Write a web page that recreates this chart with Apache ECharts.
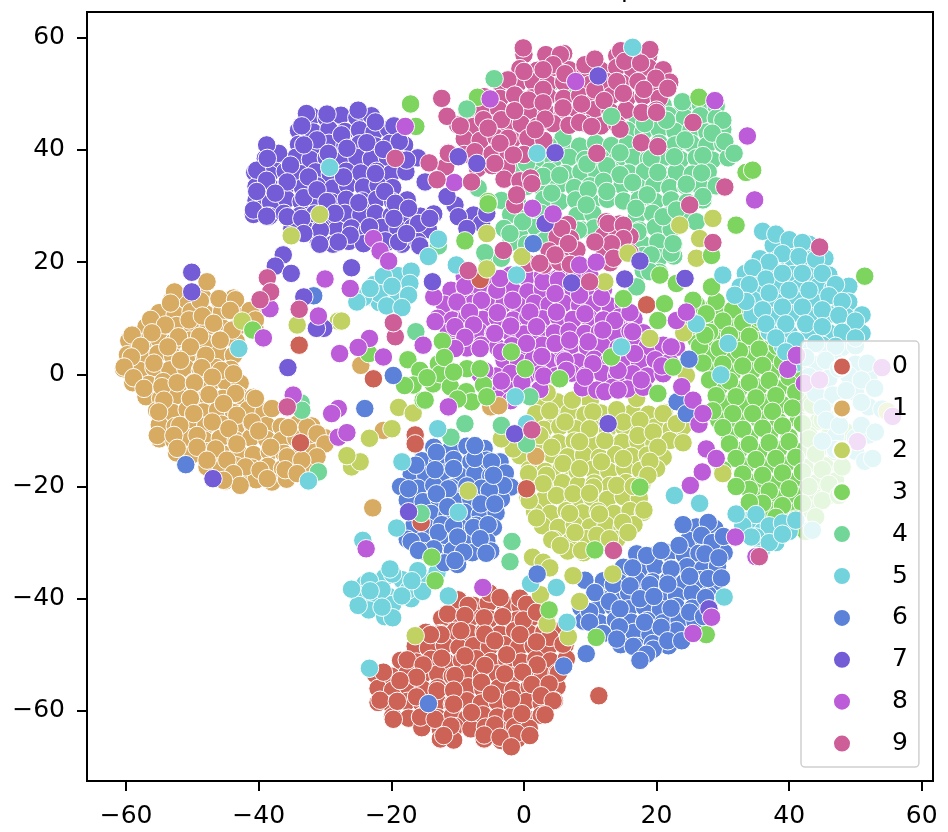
<!DOCTYPE html>
<html>
  <head>
    <title></title>
    <meta charset="UTF-8" />
    <script src="https://cdn.jsdelivr.net/npm/echarts@6/dist/echarts.min.js"></script>
    <style>
      html, body { margin: 0; background: #fff; }
    </style>
  </head>
  <body>
    <div id="main"></div>
    <script>
      const names = ['0', '1', '2', '3', '4', '5', '6', '7', '8', '9'];
      const colors = ['#CD6256', '#D8AB62', '#C1D263', '#7DD45F', '#72D698', '#72D3DC', '#5B82D8', '#735CD6', '#BC5CD8', '#CE5E98'];
      const xTicks = [-60, -40, -20, 0, 20, 40, 60];
      const yTicks = [-60, -40, -20, 0, 20, 40, 60];

      // packed body of each cluster
      const body0 = [[-10,-41],[-7.6,-41.2],[-5.4,-40.8],[-2.8,-41.1],[-.6,-41.3],[1.6,-40.9],[-12.4,-43.5],[-10.2,-43.7],[-7.8,-43.2],[-5.2,-43.6],[-3,-43.4],[-1,-43.8],[1.2,-43.3],[3.4,-43.6],[-14.8,-46],[-12.6,-46.2],[-10.4,-45.8],[-8.2,-46.1],[-6,-45.9],[-3.6,-46.3],[-1.4,-45.7],[.8,-46.2],[3,-46],[5,-45.8],[-16.4,-48.5],[-14.4,-48.8],[-12,-48.3],[-9.8,-48.7],[-7.6,-48.4],[-5.2,-48.6],[-3,-48.2],[-.8,-48.7],[1.4,-48.4],[3.6,-48.8],[6.2,-48.3],[-18.6,-51],[-16.2,-51.3],[-14,-50.8],[-11.8,-51.2],[-9.4,-51],[-7.2,-50.7],[-5,-51.2],[-2.6,-50.9],[-.4,-51.3],[1.8,-50.8],[4,-51.1],[6.4,-50.7],[-22.4,-53.5],[-20,-53.8],[-17.6,-53.3],[-15.4,-53.7],[-13,-53.4],[-10.8,-53.8],[-8.6,-53.2],[-6.4,-53.6],[-4,-53.4],[-1.8,-53.8],[.4,-53.3],[2.8,-53.6],[5,-53.2],[-22,-56],[-19.8,-56.3],[-17.4,-55.8],[-15.2,-56.2],[-13,-55.9],[-10.6,-56.3],[-8.4,-55.7],[-6.2,-56.1],[-3.8,-55.9],[-1.6,-56.3],[.8,-55.8],[3,-56.1],[5,-55.7],[-22,-58.5],[-20,-58.8],[-17.6,-58.3],[-15.4,-58.7],[-13,-58.4],[-10.8,-58.8],[-8.6,-58.2],[-6.4,-58.6],[-4,-58.4],[-1.8,-58.8],[.4,-58.3],[2.6,-58.6],[4.6,-58.2],[-19.8,-61],[-17.4,-61.3],[-15.2,-60.8],[-13,-61.2],[-10.8,-60.9],[-8.6,-61.3],[-6.2,-60.7],[-4,-61.1],[-1.8,-60.9],[.4,-61.3],[2.6,-60.8],[-15.4,-63],[-12.6,-63.3],[-10.4,-62.8],[-8,-63.2],[-5.8,-62.9],[-3.6,-63.3],[-1.4,-62.8],[.8,-63.1],[-12.6,-65],[-10.6,-65.2],[-6,-65],[-3.4,-65.3],[-1,-65]];
      const body1 = [[-53,13.5],[-50.8,13.2],[-48.4,13.7],[-46,13.3],[-43.8,13.6],[-55,11],[-52.6,10.7],[-50.2,11.2],[-48,10.8],[-45.6,11.1],[-43.2,10.7],[-41,11.2],[-57,8.5],[-54.8,8.2],[-52.4,8.7],[-50,8.3],[-47.6,8.6],[-45.4,8.2],[-43,8.7],[-40.6,8.4],[-59.6,6],[-57.4,5.7],[-55,6.2],[-52.8,5.8],[-50.4,6.1],[-48,5.7],[-45.8,6.2],[-43.4,5.9],[-59.8,3.5],[-57.6,3.2],[-55.2,3.7],[-53,3.3],[-50.6,3.6],[-48.2,3.2],[-46,3.7],[-43.8,3.4],[-60.4,1],[-58,.7],[-55.8,1.2],[-53.4,.8],[-51,1.1],[-48.8,.7],[-46.4,1.2],[-44.2,.9],[-59,-1.5],[-56.6,-1.8],[-54.4,-1.3],[-52,-1.7],[-49.8,-1.4],[-47.4,-1.8],[-45,-1.3],[-42.8,-1.6],[-57,-4],[-54.8,-4.3],[-52.4,-3.8],[-50,-4.2],[-47.8,-3.9],[-45.4,-4.3],[-43,-3.8],[-40.8,-4.1],[-55.4,-6.5],[-53,-6.8],[-50.8,-6.3],[-48.4,-6.7],[-46.2,-6.4],[-43.8,-6.8],[-41.6,-6.3],[-39.2,-6.6],[-55,-9],[-52.6,-9.3],[-50.4,-8.8],[-48,-9.2],[-45.6,-8.9],[-43.4,-9.3],[-41,-8.8],[-38.8,-9.1],[-36.6,-9.3],[-34.2,-8.9],[-32,-9.2],[-55,-11.5],[-52.8,-11.8],[-50.4,-11.3],[-48.2,-11.7],[-45.8,-11.4],[-43.4,-11.8],[-41.2,-11.3],[-38.8,-11.6],[-36.6,-11.8],[-34.4,-11.4],[-32,-11.7],[-30,-11.3],[-52.4,-14],[-50,-14.3],[-47.8,-13.8],[-45.4,-14.2],[-43,-13.9],[-40.8,-14.3],[-38.4,-13.8],[-36.2,-14.1],[-33.8,-14.3],[-31.6,-13.9],[-47.8,-16.5],[-45.6,-16.8],[-43.4,-16.3],[-41,-16.7],[-38.6,-16.4],[-36.4,-16.8],[-34,-16.3],[-32,-16.6],[-45,-19],[-42.6,-19.3],[-40.4,-18.8],[-38,-19.2],[-35.8,-18.7]];
      const body2 = [[2.4,-4.6],[5,-4.9],[7.6,-4.4],[10,-4.8],[1.8,-7],[4.4,-7.3],[6.8,-6.8],[9.2,-7.2],[11.6,-6.9],[14,-7.3],[16.4,-6.8],[18.8,-7.1],[21.2,-6.8],[.6,-9.5],[3,-9.8],[5.4,-9.3],[7.8,-9.7],[10.2,-9.4],[12.6,-9.8],[15,-9.3],[17.4,-9.6],[19.8,-9.4],[22.2,-9.8],[24,-9.3],[-2,-12],[.4,-12.3],[2.8,-11.8],[5.2,-12.2],[7.6,-11.9],[10,-12.3],[12.4,-11.8],[14.8,-12.1],[17.2,-11.9],[19.6,-12.3],[22,-11.8],[-.6,-14.5],[1.8,-14.8],[4.2,-14.3],[6.6,-14.7],[9,-14.4],[11.4,-14.8],[13.8,-14.3],[16.2,-14.6],[18.6,-14.4],[21,-14.8],[.8,-17],[3.2,-17.3],[5.6,-16.8],[8,-17.2],[10.4,-16.9],[12.8,-17.3],[15.2,-16.8],[17.6,-17.1],[20,-16.8],[1,-19.5],[3.4,-19.8],[5.8,-19.3],[8.2,-19.7],[10.6,-19.4],[13,-19.8],[15.4,-19.3],[17.8,-19.6],[.6,-22],[3,-22.3],[5.4,-21.8],[7.8,-22.2],[10.2,-21.9],[12.6,-22.3],[15,-21.8],[17.4,-22.1],[1.6,-24.5],[4,-24.8],[6.4,-24.3],[8.8,-24.7],[11.2,-24.4],[13.6,-24.8],[16,-24.3],[18,-24.6],[2.8,-27],[5.2,-27.3],[7.6,-26.8],[10,-27.2],[12.4,-26.9],[14.8,-27.3],[16.6,-26.8],[4.6,-29.5],[7,-29.8],[9.4,-29.3],[11.8,-29.7],[14,-29.4],[6.6,-31.5],[9,-31.8]];
      const body3 = [[27,11.5],[29.6,11.2],[34,11.4],[26.4,8.8],[29,8.6],[31.6,9],[34.4,8.7],[26,6.2],[29,6],[32,6.4],[35,6.1],[37.6,6.3],[28,3.4],[31,3.1],[34,3.5],[37,3.2],[28.4,.4],[31.4,.2],[34.4,.6],[37.4,.3],[40.4,.5],[29.4,-2.4],[32.4,-2.7],[35.4,-2.3],[38.4,-2.6],[41.4,-2.3],[30,-5.2],[33,-5.5],[36,-5],[39,-5.4],[42,-5.1],[45,-5.4],[29.4,-8.2],[32.4,-8.5],[35.4,-8],[38.4,-8.4],[41.4,-8.1],[44.4,-8.4],[31,-11],[34,-11.3],[37,-10.8],[40,-11.2],[43,-10.9],[46,-11.2],[49,-10.9],[32.4,-13.6],[35.4,-13.9],[38.4,-13.4],[41.4,-13.8],[44.4,-13.5],[47.4,-13.8],[33.4,-16.4],[36.4,-16.7],[39.4,-16.2],[42.4,-16.6],[45.4,-16.3],[48,-16.6],[35,-19.2],[38,-19.5],[41,-19],[44,-19.4],[47,-19],[35,-21.8],[38,-22.1],[41,-21.6],[44,-22],[46,-21.6],[37,-24.2],[40,-24.5],[43,-24]];
      const body4 = [[21,48],[24,47.7],[26.6,48.2],[29,47.8],[17,46],[19.4,45.7],[21.8,46.2],[24.2,45.8],[26.6,46.1],[29,45.7],[15.6,43.5],[18,43.2],[20.4,43.7],[22.8,43.3],[25.2,43.6],[27.6,43.2],[30,43.7],[6,41],[8.4,40.7],[10.8,41.2],[13.2,40.8],[15.6,41.1],[18,40.7],[20.4,41.2],[22.8,40.9],[25.2,41.2],[27.6,40.8],[30,41.1],[2,38.5],[4.4,38.2],[6.8,38.7],[9.2,38.3],[11.6,38.6],[14,38.2],[16.4,38.7],[18.8,38.4],[21.2,38.7],[23.6,38.3],[26,38.6],[28.4,38.2],[30.8,38.6],[-1,36],[1.4,35.7],[3.8,36.2],[6.2,35.8],[8.6,36.1],[11,35.7],[13.4,36.2],[15.8,35.9],[18.2,36.2],[20.6,35.8],[23,36.1],[25.4,35.7],[27.8,36.1],[.4,33.5],[2.8,33.2],[5.2,33.7],[7.6,33.3],[10,33.6],[12.4,33.2],[14.8,33.7],[17.2,33.4],[19.6,33.7],[22,33.3],[24.4,33.6],[26.8,33.2],[29,33.6],[-3.4,31],[-1,30.7],[3,31.2],[5.4,30.8],[7.8,31.1],[10.2,30.7],[12.6,31.2],[15,30.9],[17.4,31.2],[19.8,30.8],[22.2,31.1],[24.6,30.7],[27,31.1],[-2,28.5],[.4,28.2],[2.6,28.7],[8,28.3],[10.4,28.6],[17,28.2],[19.4,28.7],[21.8,28.4],[24,28.7],[-3,26],[-.6,25.7],[1.8,26.2],[8.6,25.8],[10.6,26.1],[17.4,25.7],[19.8,26.2],[22.2,25.9],[-2,23.5],[.4,23.2],[2.8,23.7],[17.8,23.3],[20.2,23.6],[22.6,23.2],[-5.6,21],[-3.4,20.7],[18,21.2],[20.4,20.8],[22.6,21.1],[18,18.5],[20.4,18.2]];
      const body5 = [[37.6,23],[40.4,22.7],[43,23.2],[35.6,20.6],[38,20.3],[40.4,20.8],[43,20.4],[45.4,20.7],[33.4,18],[35.8,17.7],[38.2,18.2],[40.6,17.8],[43.4,18.1],[46,17.7],[32.6,15.6],[35,15.3],[38.4,15.8],[41.4,15.4],[44.4,15.7],[46.6,15.3],[49,15.7],[34.6,13.2],[38,12.9],[40.8,13.4],[43.6,13],[46.4,13.3],[49,12.9],[34.4,10.6],[37.6,10.3],[40.4,10.8],[43,10.4],[46,10.7],[48.6,10.3],[51,10.6],[37,7.6],[40,7.3],[43,7.8],[46,7.4],[49,7.7],[51,7.3],[39,5],[42,4.7],[45,5.2],[48,4.8],[50,5.1],[41,2],[44,1.7],[47,2.2],[50,1.8],[43,-.4],[46,-.7],[49,-.2],[52,-.6],[44,-3.4],[46.6,-3.7],[50,-3.2],[45,-6],[48,-6.3],[52,-5.8],[54,-6.2],[47,-11],[50,-11.3],[52,-10.8],[47,-13.4],[50,-13.7],[-22.6,16],[-20.4,14],[-23,13.8],[-19,17.6],[-19,13.2],[-21.8,12.8],[-24,-37.4],[-21,-36.2],[-18.4,-36.6],[-15,-36.8],[-22.6,-40.2],[-20.4,-39.6],[-17,-40],[-23.4,-42],[-21,-43.2],[34,-26],[36,-28],[38,-30],[40,-28],[36,-31],[38.4,-27.4]];
      const body6 = [[-13.6,-13],[-11,-13.3],[-8.6,-12.8],[-6,-13.2],[-15.4,-15.4],[-13,-15.7],[-10.6,-15.2],[-8,-15.6],[-5.6,-15.3],[-3.6,-15.6],[-17,-17.8],[-14.8,-18.1],[-12.2,-17.6],[-9.8,-18],[-7.4,-17.7],[-5,-18.1],[-2.8,-17.6],[-18.6,-20],[-16,-20.3],[-13.6,-19.8],[-11,-20.2],[-8.6,-19.9],[-6.4,-20.3],[-4,-19.8],[-2,-20.1],[-17.6,-22.4],[-15.2,-22.7],[-12.8,-22.2],[-10.2,-22.6],[-8,-22.3],[-5.4,-22.7],[-3.4,-22.2],[-14,-24.8],[-11.6,-25.1],[-9,-24.6],[-6.6,-25],[-4.2,-24.7],[-16.6,-27],[-14.6,-27.3],[-12.4,-26.8],[-9.8,-27.2],[-7.2,-26.9],[-4.6,-27.3],[-17.6,-29.4],[-15.4,-29.7],[-12.6,-29.2],[-10,-29.6],[-8,-29.3],[-5.6,-29.7],[-15,-31.6],[-12.4,-31.9],[-10.8,-31.4],[-7.8,-31.8],[-5,-31.5],[-12,-33.6],[-10,-33.9],[26,-27.2],[28.8,-27.5],[24.8,-29.6],[27.2,-29.9],[29.6,-29.4],[17,-32],[19.4,-32.3],[21.8,-31.8],[24.2,-32.2],[26.4,-31.9],[28.6,-32.3],[30.2,-31.8],[15,-34.4],[17.4,-34.7],[19.8,-34.2],[22.2,-34.6],[24.6,-34.3],[27,-34.7],[29.2,-34.2],[12,-36.8],[14.4,-37.1],[17,-36.6],[19.4,-37],[21.8,-36.7],[24.2,-37.1],[26.6,-36.6],[29,-36.9],[11,-39.2],[13.4,-39.5],[15.8,-39],[18.2,-39.4],[20.6,-39.1],[23,-39.5],[25.4,-39],[27.8,-39.3],[8.6,-41.6],[11,-41.9],[13.4,-41.4],[15.8,-41.8],[18.2,-41.5],[20.6,-41.9],[23,-41.4],[25.4,-41.7],[27.8,-41.4],[9,-44],[11.4,-44.3],[13.8,-43.8],[16.2,-44.2],[18.6,-43.9],[21,-44.3],[23.4,-43.8],[25.8,-44.1],[12,-46.2],[14.2,-46.5],[16.6,-46],[19,-46.4],[21.4,-46.1],[23.6,-46.4],[14.6,-48.2],[17,-48.5],[19.4,-48],[21.8,-48.4]];
      const body7 = [[-32,46],[-29.8,45.7],[-27.6,46.2],[-25.2,45.8],[-23,46.1],[-34,43.5],[-31.8,43.2],[-29.4,43.7],[-27,43.3],[-24.8,43.6],[-22.6,43.2],[-20.4,43.7],[-34,41],[-31.6,40.7],[-29.4,41.2],[-27,40.8],[-24.8,41.1],[-22.4,40.7],[-20.2,41.2],[-18,40.9],[-39,38.5],[-36.8,38.2],[-34.4,38.7],[-32.2,38.3],[-29.8,38.6],[-27.6,38.2],[-25.2,38.7],[-23,38.4],[-20.6,38.7],[-18.4,38.3],[-16,38.6],[-40.6,36],[-38.4,35.7],[-36,36.2],[-33.8,35.8],[-31.4,36.1],[-29.2,35.7],[-26.8,36.2],[-24.6,35.9],[-22.2,36.2],[-20,35.8],[-17.8,36.1],[-40.4,33.5],[-38,33.2],[-35.8,33.7],[-33.4,33.3],[-31.2,33.6],[-28.8,33.2],[-26.6,33.7],[-24.2,33.4],[-22,33.7],[-19.8,33.3],[-40.4,31],[-38.2,30.7],[-35.8,31.2],[-33.6,30.8],[-31.2,31.1],[-29,30.7],[-26.8,31.2],[-24.4,30.9],[-22.2,31.2],[-19.8,30.8],[-17.6,31.1],[-40.8,28.5],[-38.4,28.2],[-36.2,28.7],[-33.8,28.3],[-31.6,28.6],[-29.2,28.2],[-27,28.7],[-24.6,28.4],[-22.4,28.7],[-20,28.3],[-17.8,28.6],[-15.6,28.2],[-13.6,28.6],[-35,26],[-32.8,25.7],[-30.6,26.2],[-28.2,25.8],[-26,26.1],[-23.6,25.7],[-21.4,26.2],[-19,25.9],[-16.8,26.2],[-14.4,25.8],[-31,23.5],[-28.8,23.2],[-26.4,23.7],[-24.2,23.3],[-20.6,23.6],[-18.4,23.2],[-16,23.7]];
      const body8 = [[-9,17.5],[-4.6,17.2],[-2,17.7],[.4,17.3],[2.8,17.6],[5.2,17.2],[7.6,17.7],[10,17.4],[-11,15],[-8.8,14.7],[-6.4,15.2],[-4.2,14.8],[-1.8,15.1],[.6,14.7],[2.8,15.2],[5,14.9],[7.4,15.2],[9.6,14.8],[12,15.1],[-12,12.5],[-9.8,12.2],[-7.6,12.7],[-5.4,12.3],[-3,12.6],[-.8,12.2],[1.6,12.7],[3.8,12.4],[6,12.7],[8.4,12.3],[10.6,12.6],[13,12.2],[15,12.6],[-13,10],[-10.8,9.7],[-8.6,10.2],[-6.2,9.8],[-4,10.1],[-1.6,9.7],[.6,10.2],[2.8,9.9],[5.2,10.2],[7.4,9.8],[9.8,10.1],[12,9.7],[14.4,10.2],[16.6,9.9],[-11.4,7.5],[-9,7.2],[-6.8,7.7],[-4.6,7.3],[-2.2,7.6],[0,7.2],[2.4,7.7],[4.6,7.4],[6.8,7.7],[9.2,7.3],[11.4,7.6],[13.8,7.2],[16,7.7],[18,7.4],[-11,5],[-8.6,4.7],[-6.4,5.2],[-4,4.8],[-1.8,5.1],[.4,4.7],[2.8,5.2],[5,4.9],[7.2,5.2],[9.6,4.8],[11.8,5.1],[14.2,4.7],[16.4,5.2],[18.6,4.9],[21,5.2],[23,4.8],[-3,2.5],[-.8,2.2],[1.4,2.7],[3.8,2.3],[6,2.6],[8.2,2.2],[10.6,2.7],[12.8,2.4],[15.2,2.7],[17.4,2.3],[19.8,2.6],[22,2.2],[-6.6,0],[-4.2,-.3],[-2,.2],[.4,-.2],[2.6,.1],[4.8,-.3],[7.2,.2],[9.4,-.1],[11.8,.2],[14,-.2],[16.4,.1],[18.6,-.3],[21,.1],[-4.6,-2.5],[-2.4,-2.8],[-.2,-2.3],[2.4,-2.7],[8.8,-2.4],[11,-2.8],[13.4,-2.3],[15.6,-2.6],[18,-2.3],[-4,-4.4],[-2,-4.7]];
      const body9 = [[0,57],[3.6,56.7],[6,57.2],[14,56.8],[16.4,57.1],[18.8,56.7],[-.6,54.5],[2,54.2],[4.4,54.7],[6.8,54.3],[9.2,54.6],[11.6,54.2],[14,54.7],[16.4,54.4],[18.8,54.7],[21,54.3],[-3.6,52],[-1,51.7],[1.4,52.2],[3.6,51.8],[6,52.1],[10,51.7],[12.4,52.2],[14.8,51.9],[17.2,52.2],[19.6,51.8],[22,52.1],[-6,49.5],[-3.6,49.2],[-1.2,49.7],[1.2,49.3],[3.6,49.6],[6,49.2],[8.4,49.7],[10.8,49.4],[13.2,49.7],[15.6,49.3],[18,49.6],[20.4,49.2],[-8.6,47],[-6.2,46.7],[-3.8,47.2],[-1.4,46.8],[1,47.1],[3.4,46.7],[5.8,47.2],[8.2,46.9],[10.6,47.2],[13,46.8],[15.4,47.1],[17.8,46.7],[20,47.1],[-10,44.5],[-7.6,44.2],[-5.2,44.7],[-2.8,44.3],[-.4,44.6],[2,44.2],[4.4,44.7],[6.8,44.4],[9.2,44.7],[11.6,44.3],[14,44.6],[-9,42],[-6.6,41.7],[-4.2,42.2],[-1.8,41.8],[.6,42.1],[3,41.7],[-11.4,39.5],[-9,39.2],[-7.4,39.7],[-4.8,39.3],[-2.4,39.6],[0,39.2],[-11.8,37],[-7,36.7],[-4.8,37.2],[-2.6,36.8],[-3,34.8],[-.6,34.5],[1,35],[4.8,27],[6.6,26.7],[12.4,27.2],[14.4,26.8],[5,24.5],[7,24.2],[12,24.7],[14,24.3],[16,24.6],[3.8,22],[6,21.7],[8,22.2],[12.2,21.8],[14,22.1],[16,21.7],[.6,19.8],[3,19.5],[5.4,20],[7,19.6],[13,19.9]];

      // points that stand out at the edge of each cluster
      const cluster0 = [[-5.2,-39],[-3.6,-39.8],[-9.9,-40.2],[-.6,-39.9],[.4,-41],[-8.4,-41.2],[-11.5,-42.7],[-8.9,-43],[-6,-43.4],[-3.2,-43.2],[-.1,-43.8],[1.9,-42.4],[-9.5,-45.7],[-12.5,-46.4],[-14.1,-46.4],[-5.9,-46.3],[-4.4,-47.5],[-.6,-46.4],[3.9,-46.9],[1.9,-47.7],[5.9,-48.1],[-17.6,-50.9],[-15.2,-51.8],[-12.4,-50.6],[-8.9,-50.2],[-2.6,-50],[-5.9,-51.9],[2,-51.8],[-21.2,-53.1],[-16.2,-54],[-10.4,-53.7],[-.2,-53.1],[5.2,-53.3],[-18.7,-54.6],[-6.4,-54.9],[-2.9,-53.4],[1.2,-55.3],[3.8,-55.2],[-13.1,-56.4],[-10.6,-56.3],[-16.2,-57.5],[-21.7,-58.1],[-19.1,-58.3],[-4.9,-57],[-1.9,-57.9],[2.6,-57.3],[4.4,-58.2],[-10.6,-58.8],[-7.9,-60.3],[-.3,-60.5],[3.2,-60.7],[-19.7,-61.5],[-15.6,-61.1],[-13.4,-61.5],[-11,-62.7],[-4.4,-62.5],[-1.1,-64],[.9,-64.4],[-12.1,-64.4],[-6,-64.3],[-3.6,-64.7],[-1.9,-66.4]];
      const cluster1 = [[-47.8,16.5],[-52.7,14.7],[-53.3,12.7],[-48.8,13.1],[-46,13.5],[-43.5,13.3],[-44.3,11.4],[-41.3,11.4],[-40.5,9.7],[-56.3,9.8],[-54.1,8.8],[-50.5,9.7],[-48.5,10.4],[-46.8,9.1],[-44,7.9],[-59.1,7],[-56.1,7.4],[-52.1,6.7],[-48.9,6.8],[-45.8,6.1],[-57.8,5],[-53.7,4.9],[-50.3,4.9],[-48,3.4],[-59.2,3.1],[-55.8,2],[-51.8,2.5],[-48.6,1.2],[-45.7,.7],[-60.3,1.3],[-58.9,-.6],[-57.3,-2.5],[-54.6,-2.2],[-52.3,-1.5],[-49.7,-1.5],[-47,-.5],[-43.8,.1],[-47.5,-3.6],[-43.5,-3.4],[-40.5,-4.3],[-54.3,-4.6],[-50.3,-4.3],[-45.3,-5.2],[-55.1,-6.7],[-51.9,-9.1],[-49.8,-7],[-47,-8.5],[-43.3,-7.3],[-38,-6.1],[-41,-8.5],[-55.3,-10.9],[-52.8,-10.9],[-49.3,-10.9],[-44.5,-9.7],[-40,-10.1],[-35.5,-9.5],[-32.7,-9.4],[-31.2,-10.6],[-30,-12.4],[-31.2,-14.7],[-52.3,-13.2],[-49.3,-13],[-46.5,-13.3],[-43.3,-12.4],[-38.2,-13],[-35.7,-14.7],[-44.8,-15.3],[-42,-16.5],[-33.5,-15.3],[-47.8,-15.3],[-43.8,-17.7],[-39.8,-17.1],[-36,-17],[-34.2,-17.7],[-42.8,-19.8],[-38.7,-18.6],[-45.3,-18.9]];
      const cluster2 = [[3.5,-3.3],[7.3,-4.6],[3.9,-6.5],[10.4,-6.7],[14,-6.3],[17,-4.3],[6.2,-8.5],[15,-8.5],[17.5,-8.2],[21,-7],[23,-8.8],[2.4,-10.9],[9.9,-9.7],[8.4,-12],[12.2,-11.8],[17.2,-10.9],[19.5,-10.3],[20.2,-13],[24,-12.2],[-1.6,-13.3],[4.2,-13],[15,-15],[19,-15.5],[5.9,-15.9],[11.7,-15.6],[8.4,-16.8],[.7,-17.7],[3.4,-18],[18.7,-18],[14,-19.8],[4.9,-21.6],[7.4,-21.3],[10.5,-20.1],[2.9,-19.5],[16.5,-20],[.8,-22.5],[9.9,-21.2],[18.1,-24.2],[14.9,-26.4],[1.9,-25.6],[6.9,-24.8],[11.4,-24.9],[7.7,-28.2],[11,-28.7],[15.7,-28.2],[4.2,-29.5],[5.5,-30.5],[8.7,-31.4],[12.9,-29.3],[1.3,-32.6],[2.9,-33.5],[3.9,-34.5]];
      const cluster3 = [[26,12.5],[29,13],[31.5,11.5],[27.5,10.2],[30,9.5],[33,9.2],[35.5,10],[25,8.5],[28,7.5],[31,7],[34,6.8],[37,7.5],[26.5,5],[29.5,4.6],[32.5,4.2],[35.5,4.5],[38.2,5],[27,2],[30,1.8],[33,1.5],[36,1.6],[39,2.2],[28,-1],[31,-1.2],[34,-1.5],[37,-1.1],[40,-.5],[42,.5],[29,-3.8],[32,-4],[35,-4.2],[38,-3.8],[41,-3.2],[43.5,-2.5],[28.5,-6.5],[31.5,-7],[34.5,-7],[37.5,-6.6],[40.5,-6],[43.5,-5.5],[46,-4.8],[30,-9.5],[33,-9.8],[36,-9.6],[39,-9.2],[42,-8.8],[45,-8.2],[47.5,-7.5],[31,-12.4],[34,-12.5],[37,-12.2],[40,-12],[43,-11.5],[46,-11],[48.5,-10.2],[32,-15],[35,-15.2],[38,-15],[41,-14.8],[44,-14.2],[47,-13.8],[49.5,-13.2],[33,-17.8],[36,-18],[39,-17.6],[42,-17.4],[45,-17],[48,-16.5],[34,-20.5],[37,-20.8],[40,-20.4],[43,-20],[46,-19.6],[36,-23],[39,-23.4],[42,-23],[45,-22.5],[47.5,-21.6],[41,-25.8],[44,-25.4],[42.5,-28],[38,-25.5],[34,-22.8],[32,-20],[30,-17]];
      const cluster4 = [[23.9,48.6],[18.2,44.7],[21.5,45.3],[30,45.3],[28.4,43],[30.3,41.5],[31.7,39.4],[24.3,41.8],[22.7,38.8],[27,39],[14.5,39.5],[19.2,38.5],[5.9,42.1],[3.7,40.8],[.4,37.6],[9.5,37.5],[12.5,37.2],[2.9,35.3],[5.4,35.5],[14.5,35.6],[20.2,36],[26.8,35.9],[16.4,34.2],[24.5,33.9],[12,34.4],[9.7,32.9],[12.5,32.6],[4.2,32.3],[18.6,32],[27,31.7],[-7.6,41.1],[-6.9,33.2],[7,50.1],[4.4,52.2],[-.2,27.2],[-2.1,25.1],[3.2,23.9],[8.2,25.7],[17.2,25.4],[16.9,29.6],[9.4,30.2],[19.2,21.3],[22.2,21.6],[19,18.3],[21,28.1],[23,29.3],[-5.9,21.7],[17,15.6],[26,27.2],[22.5,23.3]];
      const cluster5 = [[36,25.5],[38,25],[40,24],[42,23.5],[39,21.5],[41.5,21],[44,20.5],[37,20],[34.5,19],[36.5,17],[39,18],[42,18],[45,18],[47,16],[34,16],[37,14.5],[40,15],[43,15],[46,14],[48,13],[33.5,13],[36,11.5],[39,12],[42,12],[45,11.5],[47.5,10.5],[50,9.5],[36.5,9],[39.5,9],[42.5,9],[45,8.5],[48,7.5],[50,6.5],[38,6.5],[41,6],[44,5.5],[47,5],[39.5,4],[42.5,3],[45.5,2.5],[47.5,1],[51.8,2],[48.6,-2.9],[50.9,-1],[52.9,-2.5],[50.9,-5],[45.6,-8.2],[47.6,-9.1],[50.9,-9.1],[53,-10.3],[45,-11.9],[51.4,-15.5],[52.6,-15],[43.5,-27.8],[35,-25],[37,-27],[39,-26.5],[33,-27],[35,-29],[37,-30],[39,-28.5],[41,-26],[34.3,-29],[-17,18.4],[-21.2,17.5],[-17.2,16.2],[-21.8,14.4],[-17.4,14.1],[-24.2,13.7],[-25.2,12.9],[-20.7,12.2],[-18.4,11.9],[-19.9,15.7],[-23.2,15.3],[-23.3,-36.8],[-19.8,-35.6],[-16,-35],[-13.1,-35.3],[-21.4,-38.4],[-17.4,-38.4],[-25,-39.2],[-15.3,-38.7],[-19.8,-41],[-25,-41.2],[-19.8,-43.4],[-21.4,-41.5],[-26,-38.3],[-20.2,-34.7],[-18.4,-39.5],[-16.9,-36.8],[-23.2,-38.6]];
      const cluster6 = [[-17.4,-20.4],[-11.4,-20.4],[-3.1,-19.8],[-5.2,-20.7],[-13.2,-21.3],[-6.5,-23.1],[-11.5,-23.6],[-4.4,-23.1],[-12.9,-28.2],[-10.6,-27],[-7.6,-27.3],[-5.4,-26.8],[-10,-29],[-17,-29.8],[-13.6,-31.1],[-6.6,-29.3],[-5.7,-31.9],[-9.1,-31.7],[-10.4,-33.2],[-15.9,-31.4],[-13.2,-13.9],[-7.4,-12.7],[-16.3,-16.2],[-13.4,-17],[-10.6,-16.8],[-7.4,-15],[-4.9,-15.6],[-4.6,-18],[9.2,-36.7],[10.7,-38.9],[13.5,-37.5],[16.4,-34.5],[18.5,-32.3],[20.7,-31.4],[23.4,-30.5],[24,-26.8],[27.8,-26.4],[26.8,-28.7],[28.4,-30],[30.1,-28.9],[27.3,-32],[29.4,-32.7],[22.2,-34.7],[25,-36],[27.8,-36.4],[29.8,-36.3],[19,-37.5],[21.7,-37.4],[16,-37.7],[17.5,-40],[19.6,-39.6],[27.4,-39.8],[12.9,-40.5],[9.9,-42.3],[14.5,-41.8],[22.2,-41.7],[25,-42.4],[27.1,-43.2],[9.9,-44.2],[18.2,-44.2],[14.4,-45],[11.9,-46.2],[23,-45.7],[20.7,-45.1],[14,-47.2],[16.5,-48.5],[19.5,-49],[21.7,-47.5],[23.8,-47.5],[18.5,-49.9],[17.5,-51]];
      const cluster7 = [[-29.7,46.4],[-25,47.1],[-32.8,46.5],[-33.5,44.3],[-22.4,45],[-19.6,44.3],[-27.5,42.7],[-31.2,41.8],[-23.7,41.3],[-18.8,41.5],[-33.2,40.9],[-26.7,40.3],[-21.2,40.1],[-29.5,39.4],[-37,39.4],[-38.8,40.9],[-17.7,38.2],[-40.3,36.4],[-38.7,38.5],[-35.2,37.3],[-32.5,35.2],[-27.2,35.2],[-22.4,35.8],[-35.7,34.3],[-38.8,34.6],[-40.3,32.6],[-37.5,32.3],[-33.2,31.5],[-31.2,32.9],[-29.7,30.8],[-24.9,30.6],[-21,32.6],[-19.4,30.5],[-17.4,29.6],[-40.8,29.3],[-38.8,28.2],[-35.7,28.1],[-33.5,27.8],[-28.5,28.7],[-23.3,26.3],[-19.6,27.8],[-15.9,26.9],[-14.2,27.8],[-30.7,25.7],[-26.2,24.8],[-28,23.6],[-30.8,23.2],[-20.9,23.8],[-18.9,23.6],[-15.7,22.9],[-17.7,25.1],[-33.2,25.1],[-7.6,28.4],[-10.4,30.2],[-9.9,28.1],[-6.4,26.9],[-8.6,26],[-5.6,28.7]];
      const cluster8 = [[-8.9,15.7],[-10.1,12.9],[-6.4,13.2],[-4.1,15],[-1.7,13.2],[-3.6,17.1],[2.9,16.5],[5.2,16.8],[4.7,14.4],[.9,11.1],[4.9,11.1],[8.4,14.1],[11.7,13.7],[9.2,10.8],[13.7,9.6],[16,11],[-8.2,11.1],[-4,11],[-10.4,8.5],[-7.6,8.8],[-13.4,9.4],[-2,8.6],[1.9,8.5],[-8.9,6.6],[-4.4,7.3],[-6.6,4.6],[-10.4,4.6],[-3.4,4],[.4,5.5],[4.7,5.5],[6.9,6.1],[9.7,5.8],[11.9,7.9],[16.4,7.6],[2.7,3.2],[6.2,2.4],[10.4,1.9],[16.7,3.7],[20.8,1.5],[14.2,.7],[17.7,-1],[-5.9,.6],[-3.4,-1.2],[-.3,-1.4],[3,-.3],[6.4,.7],[9.2,-.5],[12.2,-3.1],[14.2,-2.8],[22.2,4.9],[-13.6,13.8]];
      const cluster9 = [[-.1,58.2],[3.3,57],[5.5,57],[4.4,55.2],[9.2,55.2],[10.7,56.2],[14.6,57.7],[19,57.9],[15.2,55.8],[17.6,55.5],[0,54],[6.2,53.6],[2.9,54.3],[-2.4,52.5],[14,52.2],[19.9,52.8],[21.7,51],[2.9,50.8],[10.7,50.7],[18.1,50.8],[15,50.1],[-1.4,49.8],[.7,48.9],[5.9,47.5],[12.1,48.8],[8.7,48.2],[2.9,48.4],[-11.6,46],[-9.6,44.3],[-6.1,45.4],[-3.4,45.4],[-1.4,47],[3.2,45.5],[8.4,44.9],[10.2,44.2],[1.7,43.6],[14.5,43.7],[20,46.7],[-2.4,42.1],[-3.6,41.2],[-5.4,43.9],[-11.4,39.4],[-1.6,39.1],[-4.4,37.6],[5.7,26],[6.7,23.3],[4.7,21.3],[12.7,26.9],[15,26.6],[15,24.2],[13.2,23.3],[13.5,20.7],[2.4,19.8],[10.7,23.6]];

      // stray points that sit on top of the clusters
      const stray0 = [[11.3,-57.3],[-33.7,-12.2],[-33.9,5.2],[-22.7,-.8],[-16.4,-10.8],[-16.4,-12.4],[18.5,12.4],[-6.6,16.9],[.4,-20.4],[-15.5,-26.4]];
      const stray1 = [[-24.6,1.6],[-5,-5.8],[-3.8,-5.6],[1.8,-14.6],[-22.8,-23.8],[-21.2,-10]];
      const stray2 = [[-30.8,28.5],[-35.1,24.7],[-28,9.5],[-34.2,8.8],[-42.5,9.5],[-18.9,-5.9],[-16.7,-6.9],[-19.9,-9.7],[-23.3,-11.4],[-26,-16.5],[-24.7,-15.6],[-26.7,-14.5],[-5.6,25.1],[-.3,21],[-5.6,18.8],[12.2,16.5],[15.7,21.6],[23.5,26.6],[28.5,27.8],[26,20.7],[26.5,24.2],[19,6.4],[24.1,7.4],[24.5,-.2],[30,-17.7],[-3.4,-11.5],[-27.5,9.5],[-8.4,-20.8],[7.4,-35.9],[13.4,-35.6],[8.4,-40.5],[2.5,-39.3],[3.5,-44.5],[6.7,-46.8],[-16.4,-46.6],[54.8,-6.6]];
      const stray3 = [[-17.1,48.2],[-16.3,44.2],[26.4,49.4],[33.5,36],[34.5,36.4],[-7,49.4],[-5.4,30.8],[-40.9,7.9],[-17.5,2.6],[-15.7,.7],[-13.7,-1.7],[-16.7,-1.9],[-15.2,-4.6],[-23.4,3.7],[-12.9,1.9],[-12.6,.1],[-8.6,1],[-11.1,-2.2],[-6.1,-1.9],[-8.7,-3.1],[-14.9,-4.6],[-7.9,-4.9],[-12.3,5.9],[-12,3],[-10.6,.4],[-14.6,-.6],[-10,-4.4],[-5.6,-4],[-18,-2],[-6.6,1],[-8.9,23.8],[28.3,15.6],[23,16.2],[25.5,13.2],[21.2,12.6],[20.2,9.6],[15,13.5],[20.5,17.7],[17.5,-20.1],[.2,1],[-5.4,30.4],[27.5,10.8],[27.3,7],[13.2,3.1],[5.4,-.8],[20.2,-3.4],[22.5,1.3],[-1.9,4],[10.7,-31.3],[3.8,-42],[27.5,-46.4],[-13.4,-36.8],[-13.9,-32.6],[10.9,-46.9],[51.4,17.5],[32,26.6],[28.3,21.2]];
      const stray4 = [[-1.8,-29.8],[-2.1,-33.4],[-15.5,-24.8],[-33.6,-5.1],[-33.5,-6.4],[-31,-17.4],[-16.3,7.6],[-8.9,-8.8],[-11,-11.2],[-3.4,-9.1],[.4,-12.4],[.9,-4],[-12.9,22.9],[13.2,46],[-8.6,47.3],[-4.5,52.7]];
      const stray5 = [[-29.3,36.9],[-43,4.6],[-32.5,-19],[-14.4,21],[-10.2,19.5],[-1.1,17.7],[14.7,4.9],[-1.3,-4],[-13,-9.7],[.4,-8.8],[-18.4,-15.6],[30,17.7],[31.8,14.1],[26,9],[30.8,5.5],[29.7,-.1],[22.7,-21.6],[-19.2,-27.4],[-24.3,-29.6],[-9.9,-24.6],[1,-37.3],[4.9,-38],[6.5,-44.2],[-23.3,-52.4],[-11.4,-39.5],[30.2,-39.7],[16.4,58.3],[2,39.4],[-12.9,24.1],[32,-24.9],[26.5,-23]];
      const stray6 = [[-19.7,-.2],[-24,-6.1],[24.9,2.7],[23.1,-4.9],[24.5,-7],[1.4,23.3],[-31.7,14],[-51,-16.1],[9.4,-49.8],[2,-35.6],[6,-52],[-14.4,-58.7],[-7.4,-12.7]];
      const stray7 = [[-50.1,18.2],[-50.1,14.7],[-36.3,21.3],[-37.5,19.3],[-35.1,18],[-26,19],[-33.2,13.8],[-30.2,8.2],[-31.3,8.2],[-35.6,1.2],[-46.9,-18.6],[-14.9,34.3],[-13.8,16.5],[-9.9,38.8],[-11.6,31.7],[4.7,39.5],[11.2,53.2],[-7.1,37.6],[3.2,26.9],[15.2,17],[17.5,20.2],[7.2,16.3],[24.3,17.1],[12.7,-8.8],[-1.4,-10.6],[-17.4,-24.5],[27.9,-41.8]];
      const stray8 = [[-17.9,44.2],[-30,17],[-26.2,15.3],[-38.3,11.7],[-31,10.4],[-39.3,6.5],[-23.3,6.4],[-25,4.8],[-27.8,3.7],[-21.2,3.1],[-28,-6.1],[-29,-7],[-28,-11.2],[-26.7,-10.4],[-34.8,-3.7],[-22.7,24.2],[-21.7,22],[-20.4,20.2],[28.8,48.8],[33.7,42.5],[34.8,31.1],[7.8,52.2],[-5.1,49.1],[-10.5,34.2],[8.4,19.5],[10.9,20],[4.4,28.6],[1.3,29.6],[-6.2,-38],[-23.8,-31.1],[25.5,-46.2],[31.9,-29],[35,-32.5],[28.3,-43.3],[25.1,-19.8],[39.8,.9],[41.1,3.4],[23,9.6],[24.5,11.1],[23.8,-2.2],[25.5,-4.6],[26.4,-8.9],[27.5,-13.3],[26.9,-17.4],[27,-7],[29,-15],[-15.2,5.2],[-11.4,-5.8],[54,1.2],[55.6,-7.5],[50.3,-12],[42.3,-1.6],[44.6,-1]];
      const stray9 = [[-38.7,17.2],[-38.2,14.7],[-39.8,13.3],[-33.9,11.6],[-35.7,-5.8],[-14.3,37.7],[-19.4,38.5],[25.5,44.9],[30.3,33.4],[-7.9,34.3],[-13.1,34.7],[-12.4,49.2],[-3.1,22.1],[28.5,23.5],[25,30.2],[-1.4,30.2],[9.9,16.5],[-19.4,6.7],[-19.7,9.2],[-8.4,18.5],[13.5,-31.4],[35.5,-32.5],[44.6,22.7],[1.2,-9.9],[11,39.4],[17.7,41.3],[20.2,40.6],[1.2,34],[-1.1,32]];

      const bodies = [body0, body1, body2, body3, body4, body5, body6, body7, body8, body9];
      const clusters = [cluster0, cluster1, cluster2, cluster3, cluster4, cluster5, cluster6, cluster7, cluster8, cluster9];
      const strays = [stray0, stray1, stray2, stray3, stray4, stray5, stray6, stray7, stray8, stray9];

      const main = document.getElementById('main');
      main.style.width = '948px';
      main.style.height = '832px';

      function makeSeries(points, i, z) {
        return {
          name: names[i],
          type: 'scatter',
          data: points,
          z: z,
          symbolSize: 18.5,
          itemStyle: { color: colors[i], borderColor: '#fff', borderWidth: 1, opacity: 1 }
        };
      }

      const series = [];
      clusters.forEach((c, i) => series.push(makeSeries(bodies[i].concat(c), i, 2)));
      strays.forEach((c, i) => series.push(makeSeries(c, i, 3)));

      const minus = (v) => String(v).replace('-', '\u2212');

      const myChart = echarts.init(main);
      myChart.setOption({
        animation: false,
        textStyle: { fontFamily: 'DejaVu Sans' },
        title: {
          text: 'p',
          left: 621,
          top: -22,
          padding: 0,
          textStyle: { fontFamily: 'DejaVu Sans', fontSize: 25, fontWeight: 'normal', color: '#000' }
        },
        grid: {
          left: 87, right: 15, top: 12, bottom: 51,
          show: true, borderColor: '#000', borderWidth: 2, backgroundColor: '#fff'
        },
        xAxis: {
          type: 'value',
          min: -65.9,
          max: 61.7,
          splitLine: { show: false },
          axisLine: { show: false, onZero: false },
          axisTick: { length: 10, customValues: xTicks, lineStyle: { color: '#000', width: 2 } },
          axisLabel: { customValues: xTicks, formatter: minus, color: '#000', fontSize: 25, margin: 23 }
        },
        yAxis: {
          type: 'value',
          min: -72.5,
          max: 64.6,
          splitLine: { show: false },
          axisLine: { show: false, onZero: false },
          axisTick: { length: 10, customValues: yTicks, lineStyle: { color: '#000', width: 2 } },
          axisLabel: { customValues: yTicks, formatter: minus, color: '#000', fontSize: 25, margin: 22, padding: [3, 0, 0, 0] }
        },
        legend: {
          data: names,
          orient: 'vertical',
          left: 801,
          top: 341,
          icon: 'circle',
          itemWidth: 18,
          itemHeight: 18,
          itemGap: 16.9,
          padding: [13, 11, 11, 31],
          selectedMode: false,
          backgroundColor: 'rgba(255,255,255,0.8)',
          borderColor: '#d0d0d0',
          borderWidth: 1.5,
          borderRadius: 4,
          textStyle: { color: '#000', fontSize: 25, padding: [0, 0, 0, 36], fontFamily: 'DejaVu Sans' }
        },
        series: series
      });
    </script>
  </body>
</html>
